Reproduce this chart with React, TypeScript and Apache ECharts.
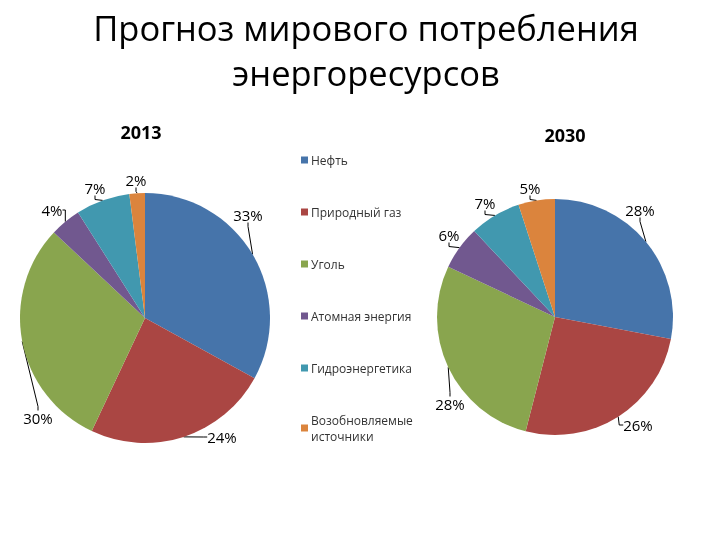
import React, { useEffect, useRef } from "react";
import * as echarts from "echarts";

const categories = [
  "Нефть",
  "Природный газ",
  "Уголь",
  "Атомная энергия",
  "Гидроэнергетика",
  "Возобновляемые\nисточники",
];
const values2013 = [33, 24, 30, 4, 7, 2];
const values2030 = [28, 26, 28, 6, 7, 5];
const colors = ["#4674AA", "#AA4643", "#89A54E", "#71588F", "#4198AF", "#DB843D"];

// label placement (pixel centres), Excel-like
const labelPos2013: [number, number][] = [
  [248, 215], [222, 437], [38, 418], [52, 210], [95, 188], [136, 180],
];
const labelPos2030: [number, number][] = [
  [640, 210], [638, 425], [450, 404], [449, 235], [485, 203], [530, 188],
];

export default function App() {
  const ref = useRef<HTMLDivElement>(null);
  useEffect(() => {
    document.body.style.margin = "0";
    const chart = echarts.init(ref.current!, null, { renderer: "svg" });
    const mk = (vals: number[]) => categories.map((n, i) => ({ name: n, value: vals[i] }));
    const labelCommon = {
      show: true,
      position: "outside" as const,
      formatter: "{c}%",
      fontFamily: "Open Sans",
      fontSize: 15,
      color: "#000",
      overflow: "none" as const,
      edgeDistance: 0,
    };
    const layoutFor = (pos: [number, number][]) => (p: any) => ({
      x: pos[p.dataIndex][0],
      y: pos[p.dataIndex][1],
      align: "center",
      verticalAlign: "middle",
    });
    chart.setOption({
      animation: false,
      color: colors,
      title: [
        {
          text: "Прогноз мирового потребления\nэнергоресурсов",
          left: 361,
          top: 0,
          textAlign: "center",
          textStyle: { fontFamily: "Open Sans", fontSize: 34.5, fontWeight: "normal", color: "#000", lineHeight: 45 },
        },
        {
          text: "2013",
          left: 136,
          top: 118,
          textAlign: "center",
          textStyle: { fontFamily: "Open Sans", fontSize: 18, fontWeight: "bold", color: "#000" },
        },
        {
          text: "2030",
          left: 560,
          top: 121,
          textAlign: "center",
          textStyle: { fontFamily: "Open Sans", fontSize: 18, fontWeight: "bold", color: "#000" },
        },
      ],
      legend: {
        orient: "vertical",
        left: 296,
        top: 147,
        itemWidth: 7,
        itemHeight: 7,
        itemGap: 36,
        icon: "rect",
        data: categories,
        textStyle: { fontFamily: "Open Sans", fontSize: 12, color: "#333", lineHeight: 16, padding: [0, 0, 0, -2] },
      },
      series: [
        {
          type: "pie",
          center: [145, 318],
          radius: 125,
          startAngle: 90,
          data: mk(values2013),
          label: labelCommon,
          labelLine: { show: true, length: 8, length2: 4, lineStyle: { color: "#000", width: 1 } },
          labelLayout: layoutFor(labelPos2013),
        },
        {
          type: "pie",
          center: [555, 317],
          radius: 118,
          startAngle: 90,
          data: mk(values2030),
          label: labelCommon,
          labelLine: { show: true, length: 8, length2: 4, lineStyle: { color: "#000", width: 1 } },
          labelLayout: layoutFor(labelPos2030),
        },
      ],
    });
    return () => chart.dispose();
  }, []);
  return <div ref={ref} style={{ position: "fixed", left: 0, top: 0, width: 720, height: 540 }} />;
}
